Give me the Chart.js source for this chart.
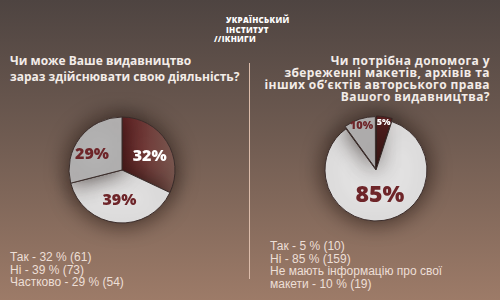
<!DOCTYPE html>
<html>
<head>
<meta charset="utf-8">
<script src="https://cdn.jsdelivr.net/npm/chart.js@4"></script>
<style>
  html, body { margin:0; padding:0; }
  body { width:500px; height:300px; overflow:hidden; position:relative;
    background: linear-gradient(to bottom, #4e4441 0%, #6f5b51 45%, #9d7b68 100%);
    font-family: "Open Sans", sans-serif; }
  .abs { position:absolute; }
  .logo { left:226px; top:15px; color:#fff; font: 800 8px/9.5px "Open Sans", sans-serif; letter-spacing:0.3px; }
  .logo div:last-child { margin-left:-12px; }
  .t1 { left:10px; top:53px; width:240px; color:#f3ece8; font: 700 12px/16px "Open Sans", sans-serif; letter-spacing:0px; }
  .t2 { right:10px; top:55px; width:240px; text-align:right; color:#f3ece8; font: 700 12px/12px "Open Sans", sans-serif; letter-spacing:0.4px; }
  .leg { color:#eddfd6; font: 400 12px/12.7px "Liberation Sans", sans-serif; }
  .divider { left:249px; top:63px; width:1px; height:216px; background:#dcbcaa; }
  canvas { position:absolute; }
</style>
</head>
<body>
<div class="abs logo"><div>УКРАЇНСЬКИЙ</div><div>ІНСТИТУТ</div><div>//ІКНИГИ</div></div>
<div class="abs t1">Чи може Ваше видавництво<br>зараз здійснювати свою діяльність?</div>
<div class="abs t2">Чи потрібна допомога у<br>збереженні макетів, архівів та<br>інших об’єктів авторського права<br>Вашого видавництва?</div>
<div class="abs divider"></div>
<div class="abs leg" id="legL" style="left:10px; top:251px; width:220px;"></div>
<div class="abs leg" id="legR" style="left:270px; top:240px; width:190px;"></div>
<canvas id="c1" width="160" height="160" style="left:42px; top:90px;"></canvas>
<canvas id="c2" width="160" height="160" style="left:296px; top:90px;"></canvas>
<script>
const leftLabels = ['Так', 'Ні', 'Частково'];
const leftValues = [32, 39, 29];
const leftCounts = [61, 73, 54];

const rightLabels = ['Так', 'Ні', 'Не мають інформацію про свої макети'];
const rightValues = [5, 85, 10];
const rightCounts = [10, 159, 19];

function fillLegend(id, labels, values, counts) {
  const el = document.getElementById(id);
  labels.forEach((l, i) => {
    const d = document.createElement('div');
    d.textContent = l + ' - ' + values[i] + ' % (' + counts[i] + ')';
    el.appendChild(d);
  });
}
fillLegend('legL', leftLabels, leftValues, leftCounts);
fillLegend('legR', rightLabels, rightValues, rightCounts);

const shadowPlugin = {
  id: 'shadowPlugin',
  beforeDatasetsDraw(chart) {
    const ctx = chart.ctx;
    ctx.save();
    ctx.shadowColor = 'rgba(30,18,14,0.75)';
    ctx.shadowBlur = 22;
  },
  afterDatasetsDraw(chart) {
    chart.ctx.restore();
  }
};

const labelPlugin = {
  id: 'sliceLabels',
  afterDatasetsDraw(chart, args, opts) {
    const ctx = chart.ctx;
    const meta = chart.getDatasetMeta(0);
    const values = chart.data.datasets[0].data;
    meta.data.forEach((arc, i) => {
      const p = arc.getProps(['x', 'y', 'startAngle', 'endAngle', 'outerRadius'], true);
      const mid = (p.startAngle + p.endAngle) / 2;
      const r = p.outerRadius * opts.frac[i];
      const x = p.x + Math.cos(mid) * r + opts.dx[i];
      const y = p.y + Math.sin(mid) * r + opts.dy[i];
      ctx.save();
      ctx.font = '800 ' + opts.size[i] + 'px "Open Sans", sans-serif';
      ctx.fillStyle = opts.color[i];
      ctx.textAlign = 'center';
      ctx.textBaseline = 'middle';
      ctx.fillText(values[i] + '%', x, y);
      ctx.restore();
    });
  }
};

function sliceColor(colors, gradientIndex) {
  return (c) => {
    if (c.dataIndex === gradientIndex) {
      const chart = c.chart;
      const area = chart.chartArea;
      if (!area) return colors[gradientIndex];
      const cx = (area.left + area.right) / 2;
      const g = chart.ctx.createLinearGradient(cx, 0, cx + 53, 0);
      g.addColorStop(0, '#6a2527');
      g.addColorStop(1, '#7c5a52');
      return g;
    }
    return colors[c.dataIndex];
  };
}

new Chart(document.getElementById('c1'), {
  type: 'pie',
  data: {
    labels: leftLabels,
    datasets: [{
      data: leftValues,
      backgroundColor: sliceColor(['#6d2a2b', '#e3e2e2', '#b5b4b4'], 0),
      borderColor: '#3c2e2c',
      borderWidth: 1
    }]
  },
  options: {
    responsive: false,
    devicePixelRatio: 1,
    animation: false,
    radius: 53,
    plugins: {
      legend: { display: false },
      tooltip: { enabled: false },
      sliceLabels: {
        frac: [0.55, 0.52, 0.62],
        size: [16, 16, 16],
        color: ['#ffffff', '#6e2529', '#6e2529'],
        dx: [3, 0, -4],
        dy: [2, 3, 5]
      }
    }
  },
  plugins: [shadowPlugin, labelPlugin]
});

new Chart(document.getElementById('c2'), {
  type: 'pie',
  data: {
    labels: rightLabels,
    datasets: [{
      data: rightValues,
      backgroundColor: ['#6c2628', '#e3e2e2', '#b3b2b2'],
      borderColor: '#3c2e2c',
      borderWidth: 1,
      offset: [7, 0, 7]
    }]
  },
  options: {
    responsive: false,
    devicePixelRatio: 1,
    animation: false,
    radius: 51,
    plugins: {
      legend: { display: false },
      tooltip: { enabled: false },
      sliceLabels: {
        frac: [0.95, 0.48, 0.92],
        size: [9, 23, 11],
        color: ['#ffffff', '#6e2529', '#6e2529'],
        dx: [0, 0, 0],
        dy: [0, 1, 0]
      }
    }
  },
  plugins: [shadowPlugin, labelPlugin]
});
</script>
</body>
</html>
